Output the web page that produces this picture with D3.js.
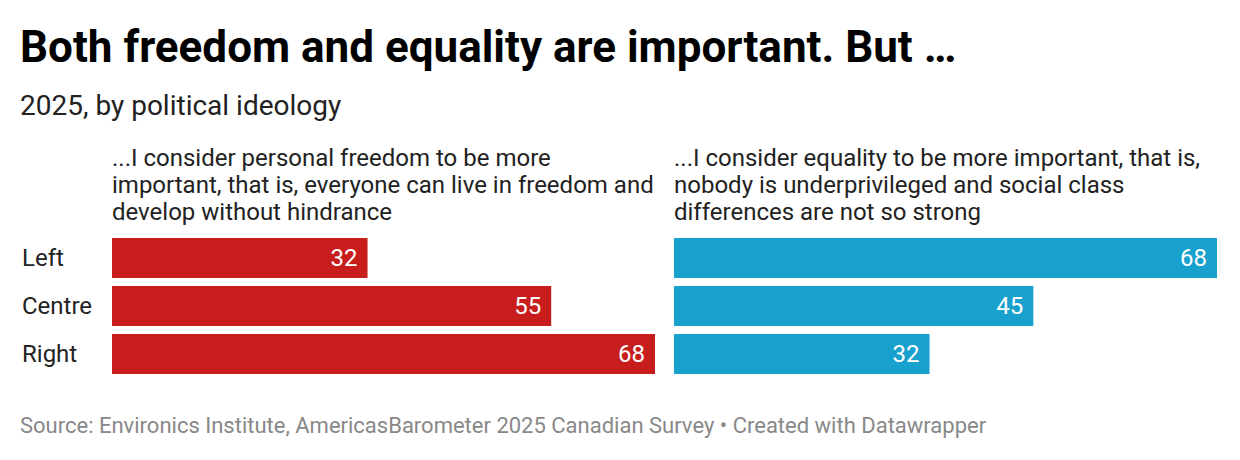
<!DOCTYPE html>
<html>
<head>
<meta charset="utf-8">
<script src="https://cdn.jsdelivr.net/npm/d3@7"></script>
<style>
  body { margin: 0; background: #fff; }
  svg text { font-family: Roboto, "Noto Sans", sans-serif; }
</style>
</head>
<body>
<div id="chart"></div>
<script>
// Chart data
const categories = ['Left', 'Centre', 'Right'];
const freedomValues = [32, 55, 68];
const equalityValues = [68, 45, 32];
const freedomHeader = [
  '...I consider personal freedom to be more',
  'important, that is, everyone can live in freedom and',
  'develop without hindrance'
];
const equalityHeader = [
  '...I consider equality to be more important, that is,',
  'nobody is underprivileged and social class',
  'differences are not so strong'
];
const titleText = 'Both freedom and equality are important. But …';
const subtitleText = '2025, by political ideology';
const sourceText = 'Source: Environics Institute, AmericasBarometer 2025 Canadian Survey • Created with Datawrapper';

const W = 1240, H = 460;
const svg = d3.select('#chart').append('svg')
  .attr('width', W)
  .attr('height', H);

// title + subtitle
svg.append('text')
  .attr('x', 20).attr('y', 62)
  .style('font-size', '44px').style('font-weight', 700)
  .attr('fill', '#000')
  .text(titleText);

svg.append('text')
  .attr('x', 20).attr('y', 115)
  .style('font-size', '28px')
  .attr('fill', '#222')
  .text(subtitleText);

// shared y scale for the rows
const y = d3.scaleBand()
  .domain(categories)
  .range([238, 374])
  .paddingInner(1 / 6)
  .paddingOuter(0);

// row labels
svg.selectAll('.row-label')
  .data(categories)
  .enter()
  .append('text')
  .attr('class', 'row-label')
  .attr('x', 22)
  .attr('y', d => y(d) + y.bandwidth() / 2 + 8)
  .style('font-size', '24px')
  .attr('fill', '#222')
  .text(d => d);

const panels = [
  { x0: 112, values: freedomValues, header: freedomHeader, color: '#c71e1d' },
  { x0: 674, values: equalityValues, header: equalityHeader, color: '#18a1cd' }
];

panels.forEach(p => {
  const x = d3.scaleLinear()
    .domain([0, 68])
    .range([p.x0, p.x0 + 543]);

  const g = svg.append('g');

  g.selectAll('.hdr')
    .data(p.header)
    .enter()
    .append('text')
    .attr('x', p.x0)
    .attr('y', (d, i) => 166 + i * 27)
    .style('font-size', '24px')
    .attr('fill', '#222')
    .text(d => d);

  g.selectAll('.bar')
    .data(categories)
    .enter()
    .append('rect')
    .attr('x', x(0))
    .attr('y', d => y(d))
    .attr('width', (d, i) => x(p.values[i]) - x(0))
    .attr('height', y.bandwidth())
    .attr('fill', p.color);

  g.selectAll('.val')
    .data(categories)
    .enter()
    .append('text')
    .attr('x', (d, i) => x(p.values[i]) - 10)
    .attr('y', d => y(d) + y.bandwidth() / 2 + 8)
    .attr('text-anchor', 'end')
    .style('font-size', '24px')
    .attr('fill', '#fff')
    .text((d, i) => p.values[i]);
});

// footer
svg.append('text')
  .attr('x', 20).attr('y', 433)
  .style('font-size', '22px')
  .attr('fill', '#888')
  .text(sourceText);
</script>
</body>
</html>
